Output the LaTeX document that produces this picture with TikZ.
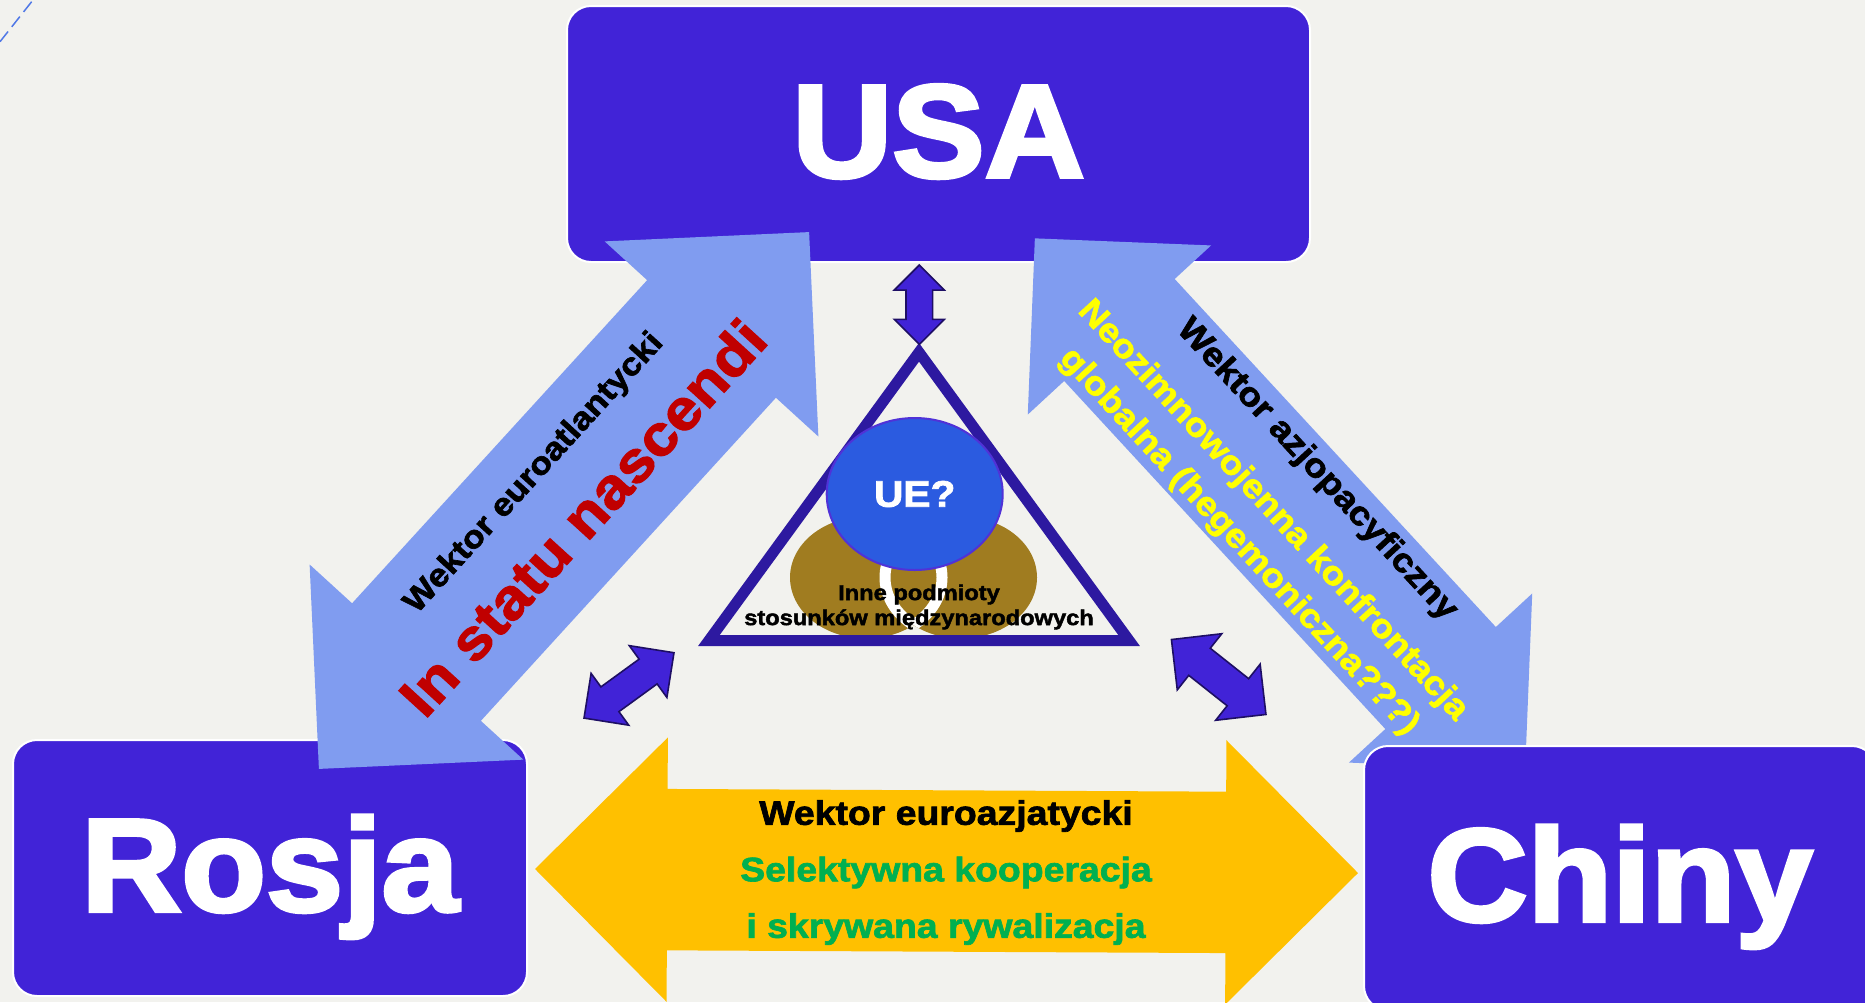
\documentclass[tikz,border=0pt]{standalone}
\usepackage{fontspec}
\setmainfont{Liberation Sans}
\newfontfamily\boxfont{Liberation Sans Bold}[FakeStretch=1.05, FakeBold=3]
\newfontfamily\labfont{Liberation Sans Bold}[FakeStretch=1.1, FakeBold=2]
\usepackage{tikz}
\usetikzlibrary{shapes.geometric}
\usetikzlibrary{shapes.arrows}

\definecolor{PageGray}{RGB}{242,242,238}
\definecolor{StateBlue}{RGB}{65,35,215}
\definecolor{VectorBlue}{RGB}{128,156,240}
\definecolor{FrameIndigo}{RGB}{45,25,160}
\definecolor{UnionBlue}{RGB}{43,91,224}
\definecolor{UnionEdge}{RGB}{80,50,215}
\definecolor{ActorBrown}{RGB}{160,124,32}
\definecolor{EurasiaGold}{RGB}{255,192,0}
\definecolor{CoopGreen}{RGB}{0,176,80}
\definecolor{NascRed}{RGB}{192,0,0}
\definecolor{ConfYellow}{RGB}{255,255,0}
\definecolor{LinkNavy}{RGB}{30,15,100}
\definecolor{GuideBlue}{RGB}{80,120,230}

\begin{document}
\begin{tikzpicture}[x=1pt, y=-1pt,
  state/.style={rectangle, rounded corners=24pt, fill=StateBlue, draw=white, line width=2pt, text=white, inner sep=0pt, text height=98pt, text depth=12pt, font=\boxfont\fontsize{132}{140}\selectfont},
  vector/.style={double arrow, double arrow tip angle=90, fill=VectorBlue, inner xsep=0pt},
  link/.style={double arrow, double arrow tip angle=90, fill=StateBlue, draw=LinkNavy, line width=1.6pt, inner xsep=0pt},
  actor/.style={ellipse, minimum width=152pt, minimum height=122pt, inner sep=0pt},
  caption/.style 2 args={font=\labfont\fontsize{#1}{#2}\selectfont, inner sep=0pt, align=center}]
\useasboundingbox (0,0) rectangle (1865,1002);
\fill[PageGray] (0,0) rectangle (1865,1002);
\draw[GuideBlue, line width=1.5pt, dash pattern=on 13pt off 6pt] (0,41.7) -- (33,0);
\node[state, minimum width=743pt, minimum height=256pt] (usa) at (938.5,134) {USA};
\node[state, minimum width=514pt, minimum height=256pt] (rosja) at (270,868) {Rosja};
\node[vector, rotate=47.6, minimum height=727pt, inner ysep=87pt, double arrow head extend=57.5pt] (atlantic) at (564,500.5) {};
\node[caption={32}{32}, rotate=47.6] (atltitle) at (534.4,473.5) {Wektor euroatlantycki};
\node[caption={57}{57}, rotate=47.6, text=NascRed] (atlstate) at (582.5,517.4) {In statu nascendi};
\node[vector, rotate=-47.3, minimum height=723pt, inner ysep=75pt, double arrow head extend=49.5pt] (pacific) at (1280,504) {};
\node[caption={33.7}{33.7}, rotate=-47.3] (pactitle) at (1316.8,470) {Wektor azjopacyficzny};
\node[caption={33.7}{46}, rotate=-47.3, text=ConfYellow] (pacstate) at (1255.7,526.4) {Neozimnowojenna konfrontacja\\globalna (hegemoniczna???)};
\node[state, minimum width=512pt, minimum height=264pt] (chiny) at (1620,878) {Chiny};
\node[vector, fill=EurasiaGold, rotate=-0.28, minimum height=823pt, inner ysep=80.5pt, double arrow head extend=51.5pt] (eurasia) at (946.5,871) {};
\node[caption={34}{56.5}] (eurtext) at (946,872.5) {Wektor euroazjatycki\\\textcolor{CoopGreen}{Selektywna kooperacja}\\\textcolor{CoopGreen}{i skrywana rywalizacja}};
\node[actor, fill=ActorBrown] (leftactor) at (866,577.5) {};
\node[actor, fill=ActorBrown] (rightactor) at (961,577.5) {};
\begin{scope}
\clip (961,577.5) ellipse [x radius=76pt, y radius=61pt];
\node[actor, draw=white, line width=11pt] (leftring) at (leftactor) {};
\end{scope}
\begin{scope}
\clip (866,577.5) ellipse [x radius=76pt, y radius=61pt];
\node[actor, draw=white, line width=11pt] (rightring) at (rightactor) {};
\end{scope}
\draw[FrameIndigo, line width=11pt, line join=miter] (919,352.3) -- (708.9,640.5) -- (1129.1,640.5) -- cycle;
\node[ellipse, minimum width=176pt, minimum height=152pt, fill=UnionBlue, draw=UnionEdge, line width=2pt, text=white, caption={37}{37}] (ue) at (914.7,494) {UE?};
\node[caption={21.5}{25}] (others) at (919,607) {Inne podmioty\\stosunków międzynarodowych};
\node[link, rotate=90, minimum height=79.3pt, inner ysep=12.5pt, double arrow head extend=11.7pt] (usalink) at (919.3,304.7) {};
\node[link, rotate=36, minimum height=111.2pt, inner ysep=14.5pt, double arrow head extend=16.7pt] (roslink) at (629,685.4) {};
\node[link, rotate=-38.4, minimum height=120.6pt, inner ysep=16.5pt, double arrow head extend=18.5pt] (chilink) at (1218.7,677) {};
\end{tikzpicture}
\end{document}
